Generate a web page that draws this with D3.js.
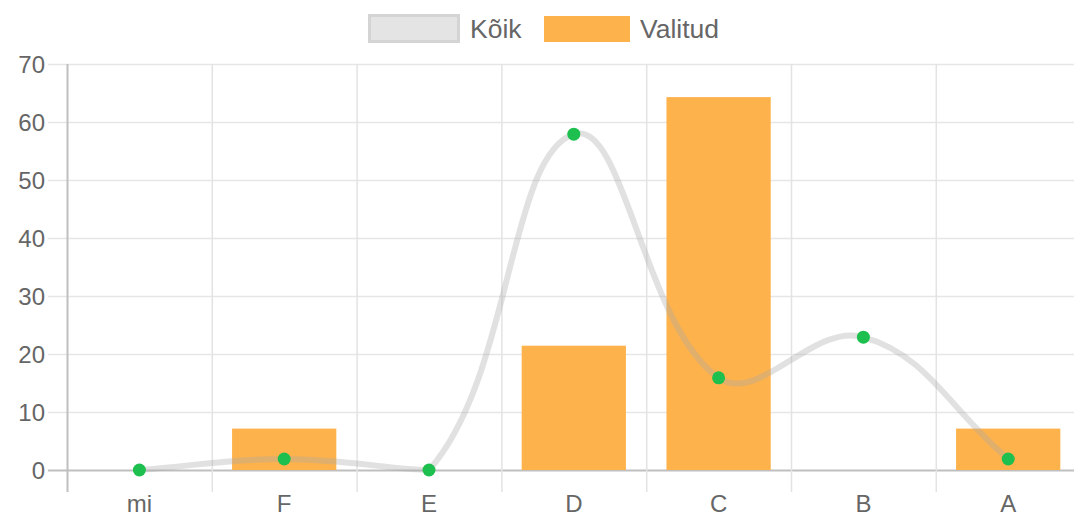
<!DOCTYPE html>
<html>
<head>
<meta charset="utf-8">
<script src="https://cdn.jsdelivr.net/npm/d3@7"></script>
<style>
  html, body { margin: 0; padding: 0; background: #fff; }
  svg { display: block; }
  text { font-family: "Liberation Sans", Arial, Helvetica, sans-serif; fill: #666; }
</style>
</head>
<body>
<svg id="chart" width="1074" height="518"></svg>
<script>
const categories = ["mi", "F", "E", "D", "C", "B", "A"];
const koikValues = [0, 1.9, 0, 57.9, 15.9, 22.9, 1.9];
const valitudValues = [0, 7.14, 0, 21.43, 64.29, 0, 7.14];
const yTicks = [0, 10, 20, 30, 40, 50, 60, 70];
const seriesNames = ["Kõik", "Valitud"];

(function () {
const W = 1074, H = 518;
const pLeft = 67, pRight = 1080.6, pTop = 64, pBottom = 470;
const svg = d3.select("#chart");

const x = d3.scaleBand().domain(categories).range([pLeft, pRight]).padding(0);
const y = d3.scaleLinear().domain([0, 70]).range([pBottom, pTop]);

const grid = svg.append("g");
grid.selectAll("line.h").data(yTicks).enter().append("line")
  .attr("x1", pLeft - 19).attr("x2", W)
  .attr("y1", d => y(d) + 0.5).attr("y2", d => y(d) + 0.5)
  .attr("stroke", d => d === 0 ? "#bfbfbf" : "#e6e6e6")
  .attr("stroke-width", d => d === 0 ? 2 : 1.5);
const edges = categories.map(c => x(c));
grid.selectAll("line.v").data(edges).enter().append("line")
  .attr("x1", d => d + 0.5).attr("x2", d => d + 0.5)
  .attr("y1", pTop).attr("y2", pBottom + 22)
  .attr("stroke", (d, i) => i === 0 ? "#bfbfbf" : "#e3e3e3")
  .attr("stroke-width", (d, i) => i === 0 ? 2 : 1.5);

svg.append("g").selectAll("text").data(yTicks).enter().append("text")
  .attr("x", pLeft - 22).attr("y", d => y(d))
  .attr("text-anchor", "end").attr("dominant-baseline", "central")
  .style("font-size", "24px")
  .text(d => d);

svg.append("g").selectAll("text").data(categories).enter().append("text")
  .attr("x", d => x(d) + x.bandwidth() / 2).attr("y", 512)
  .attr("text-anchor", "middle")
  .style("font-size", "24px")
  .text(d => d);

const barW = x.bandwidth() * 0.72;
const barColor = "#feb24c";
svg.append("g").selectAll("rect").data(categories.map((c, i) => ({c, v: valitudValues[i]})).filter(d => d.v > 0))
  .enter().append("rect")
  .attr("x", d => x(d.c) + (x.bandwidth() - barW) / 2)
  .attr("width", barW)
  .attr("y", d => y(d.v))
  .attr("height", d => y(0) - y(d.v))
  .attr("fill", barColor);

const pts = categories.map((c, i) => ({x: x(c) + x.bandwidth() / 2, y: y(koikValues[i])}));
const t = 0.4;
const cps = pts.map((p, i) => {
  const prev = pts[i - 1] || p, next = pts[i + 1] || p;
  const d01 = Math.hypot(p.x - prev.x, p.y - prev.y);
  const d12 = Math.hypot(next.x - p.x, next.y - p.y);
  let s01 = d01 / (d01 + d12), s12 = d12 / (d01 + d12);
  if (isNaN(s01)) s01 = 0; if (isNaN(s12)) s12 = 0;
  const fa = t * s01, fb = t * s12;
  return {
    px: p.x - fa * (next.x - prev.x), py: Math.min(pBottom, p.y - fa * (next.y - prev.y)),
    nx: p.x + fb * (next.x - prev.x), ny: Math.min(pBottom, p.y + fb * (next.y - prev.y))
  };
});
const path = d3.path();
path.moveTo(pts[0].x, pts[0].y);
for (let i = 1; i < pts.length; i++) {
  path.bezierCurveTo(cps[i - 1].nx, cps[i - 1].ny, cps[i].px, cps[i].py, pts[i].x, pts[i].y);
}
svg.append("path").attr("d", path.toString())
  .attr("fill", "none")
  .attr("stroke", "rgba(170,170,170,0.35)")
  .attr("stroke-width", 6);

svg.append("g").selectAll("circle").data(pts).enter().append("circle")
  .attr("cx", d => d.x).attr("cy", d => d.y).attr("r", 6.5)
  .attr("fill", "#1dc04e");

const lg = svg.append("g");
lg.append("rect").attr("x", 369.5).attr("y", 15.5).attr("width", 89).attr("height", 26)
  .attr("fill", "#e4e4e4").attr("stroke", "#d4d4d4").attr("stroke-width", 3);
lg.append("text").attr("x", 470).attr("y", 29).attr("dominant-baseline", "central")
  .style("font-size", "26.5px").text(seriesNames[0]);
lg.append("rect").attr("x", 544).attr("y", 16).attr("width", 86).attr("height", 26)
  .attr("fill", barColor);
lg.append("text").attr("x", 640).attr("y", 29).attr("dominant-baseline", "central")
  .style("font-size", "26.5px").text(seriesNames[1]);
})();
</script>
</body>
</html>
